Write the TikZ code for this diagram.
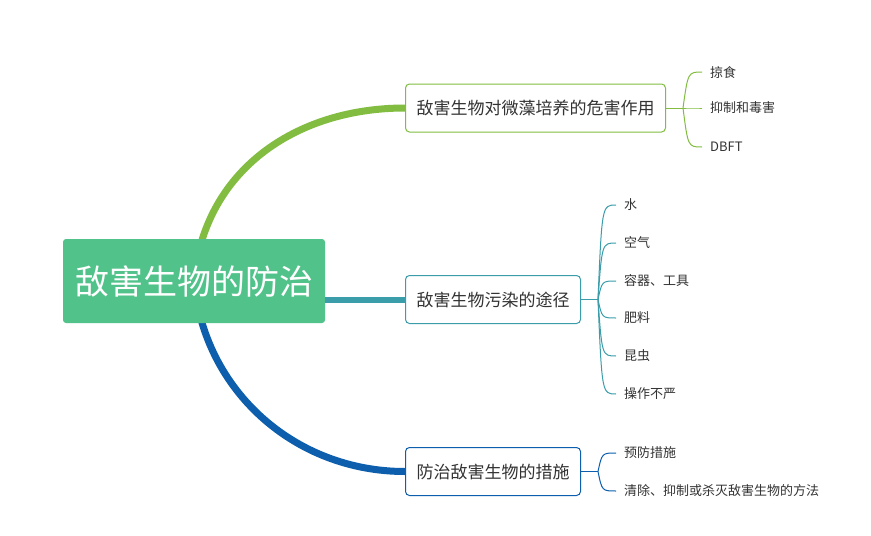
\documentclass[tikz,border=0pt]{standalone}
\usepackage{fontspec}
\setmainfont{Noto Sans CJK SC}
\usetikzlibrary{positioning,backgrounds}
\definecolor{rootgreen}{HTML}{50C28A}
\definecolor{brgreen}{HTML}{82BD41}
\definecolor{brteal}{HTML}{3A9DA9}
\definecolor{brblue}{HTML}{0D5EAC}
\definecolor{txt}{HTML}{333333}

\begin{document}
\begin{tikzpicture}[x=1pt, y=-1pt, font=\fontsize{13}{15}\selectfont,
  rootbox/.style={fill=rootgreen, rounded corners=3pt, text=white, minimum width=262pt,
    minimum height=84pt, font=\fontsize{34}{40}\selectfont},
  topic/.style={draw=#1, fill=white, rounded corners=4pt, line width=1pt, minimum height=48pt,
    inner xsep=11pt, anchor=west, text=txt, font=\fontsize{17}{20}\selectfont},
  leaf/.style={anchor=west, inner xsep=8pt, text=txt},
  trunk/.style={line width=7pt},
  twig/.style={line width=1pt}]
  \useasboundingbox (0,0) rectangle (871,536);
  % central topic and main branches
  \node[rootbox] (root) at (194,281) {敌害生物的防治};
  \node[topic=brgreen] (b1) at (405,108) {敌害生物对微藻培养的危害作用};
  \node[topic=brteal]  (b2) at (405,299.5) {敌害生物污染的途径};
  \node[topic=brblue]  (b3) at (405,471.5) {防治敌害生物的措施};
  \begin{scope}[on background layer]
    \fill[white] (0,0) rectangle (871,536);
    \draw[trunk, brgreen] (root.center) .. controls +(10,-110) and +(-110,0) .. (b1.west);
    \draw[trunk, brteal, line width=6pt] (root.center |- b2.west) -- (b2.west);
    \draw[trunk, brblue] (root.center) .. controls +(10,110) and +(-110,0) .. (b3.west);
  \end{scope}
  % sub topics
  \coordinate (j1) at (683,108);
  \coordinate (j2) at (598,299.5);
  \coordinate (j3) at (598,471.5);
  \draw[twig, brgreen] (b1.east) -- (j1);
  \draw[twig, brteal] (b2.east) -- (j2);
  \draw[twig, brblue] (b3.east) -- (j3);
  \foreach \n/\y/\lbl in {a/72/掠食, b/108/抑制和毒害, c/147/DBFT} {
    \node[leaf] (b1\n) at (702,\y) {\lbl};
    \draw[twig, brgreen] (j1) .. controls (688,\y) .. (b1\n.west);
  }
  \foreach \n/\y/\lbl in {a/205/水, b/243/空气, c/281/容器、工具, d/318/肥料, e/356/昆虫, f/394/操作不严} {
    \node[leaf] (b2\n) at (616,\y) {\lbl};
    \draw[twig, brteal] (j2) .. controls (602,\y) .. (b2\n.west);
  }
  \foreach \n/\y/\lbl in {a/453/预防措施, b/491/清除、抑制或杀灭敌害生物的方法} {
    \node[leaf] (b3\n) at (616,\y) {\lbl};
    \draw[twig, brblue] (j3) .. controls (602,\y) .. (b3\n.west);
  }
\end{tikzpicture}
\end{document}
